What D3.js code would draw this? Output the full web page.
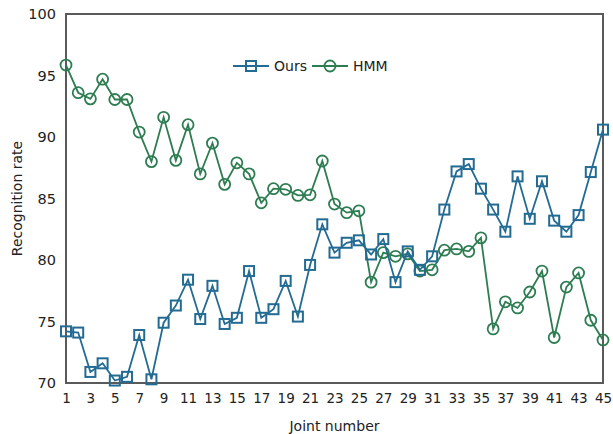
<!DOCTYPE html>
<html>
<head>
<meta charset="utf-8">
<script src="https://cdn.jsdelivr.net/npm/d3@7"></script>
<style>
  html, body { margin: 0; padding: 0; background: #fff; }
  svg text { font-family: "DejaVu Sans", Verdana, sans-serif; fill: #222; }
</style>
</head>
<body>
<svg id="chart" width="613" height="434"></svg>
<script>
// Recognition rate per joint number for the two methods
const joints = d3.range(1, 46);
const oursValues = [
  74.2, 74.1, 70.9, 71.6, 70.2, 70.5, 73.9, 70.3, 74.9, 76.3,
  78.4, 75.2, 77.9, 74.8, 75.3, 79.1, 75.3, 76.0, 78.3, 75.4,
  79.6, 82.9, 80.6, 81.4, 81.6, 80.45, 81.7, 78.2, 80.7, 79.2,
  80.3, 84.1, 87.2, 87.8, 85.8, 84.1, 82.3, 86.8, 83.35, 86.4,
  83.2, 82.3, 83.65, 87.15, 90.6
];
const hmmValues = [
  95.85, 93.6, 93.1, 94.7, 93.05, 93.05, 90.4, 88.0, 91.6, 88.1,
  91.0, 87.0, 89.5, 86.15, 87.9, 87.0, 84.65, 85.8, 85.75, 85.25,
  85.3, 88.05, 84.55, 83.85, 84.0, 78.2, 80.6, 80.3, 80.5, 79.1,
  79.2, 80.8, 80.9, 80.7, 81.8, 74.4, 76.6, 76.1, 77.4, 79.1,
  73.7, 77.8, 78.95, 75.1, 73.5
];
const xTickValues = d3.range(1, 46, 2);
const yTickValues = [70, 75, 80, 85, 90, 95, 100];
const seriesNames = ["Ours", "HMM"];
const seriesColors = ["#236b93", "#2e7d52"];

const svg = d3.select("#chart");
const margin = { left: 66, right: 10, top: 14, bottom: 51 };
const W = 613, H = 434;
const x = d3.scaleLinear().domain([1, 45]).range([margin.left, W - margin.right]);
const y = d3.scaleLinear().domain([70, 100]).range([H - margin.bottom, margin.top]);

// Plot frame
svg.append("rect")
  .attr("x", x(1)).attr("y", y(100))
  .attr("width", x(45) - x(1)).attr("height", y(70) - y(100))
  .attr("fill", "none").attr("stroke", "#5a5a5a").attr("stroke-width", 2);

// Axes: labels only, no tick marks
const xAxis = svg.append("g")
  .attr("transform", `translate(0,${y(70)})`)
  .call(d3.axisBottom(x).tickValues(xTickValues).tickFormat(d3.format("d")).tickSize(0).tickPadding(10));
xAxis.select(".domain").remove();
xAxis.selectAll("text").style("font-size", "13.5px");

const yAxis = svg.append("g")
  .attr("transform", `translate(${x(1)},0)`)
  .call(d3.axisLeft(y).tickValues(yTickValues).tickSize(0).tickPadding(10));
yAxis.select(".domain").remove();
yAxis.selectAll("text").style("font-size", "14.5px");

// Axis titles
svg.append("text")
  .attr("x", (x(1) + x(45)) / 2).attr("y", 431)
  .attr("text-anchor", "middle").style("font-size", "14px")
  .text("Joint number");
svg.append("text")
  .attr("transform", `translate(22,${(y(70) + y(100)) / 2}) rotate(-90)`)
  .attr("text-anchor", "middle").style("font-size", "14px")
  .text("Recognition rate");

const line = d3.line().x((d, i) => x(joints[i])).y(d => y(d));

function drawSquare(g, cx, cy, color) {
  g.append("rect")
    .attr("x", cx - 5).attr("y", cy - 5).attr("width", 10).attr("height", 10)
    .attr("fill", "none").attr("stroke", color).attr("stroke-width", 2);
}
function drawCircle(g, cx, cy, color) {
  g.append("circle")
    .attr("cx", cx).attr("cy", cy).attr("r", 5.5)
    .attr("fill", "none").attr("stroke", color).attr("stroke-width", 1.8);
}

// HMM series
const gH = svg.append("g");
gH.append("path").datum(hmmValues).attr("d", line)
  .attr("fill", "none").attr("stroke", seriesColors[1]).attr("stroke-width", 1.8);
hmmValues.forEach((v, i) => drawCircle(gH, x(joints[i]), y(v), seriesColors[1]));

// Ours series
const gO = svg.append("g");
gO.append("path").datum(oursValues).attr("d", line)
  .attr("fill", "none").attr("stroke", seriesColors[0]).attr("stroke-width", 1.8);
oursValues.forEach((v, i) => drawSquare(gO, x(joints[i]), y(v), seriesColors[0]));

// Legend
const legend = svg.append("g");
const legendItems = [
  { name: seriesNames[0], color: seriesColors[0], x0: 233, marker: drawSquare },
  { name: seriesNames[1], color: seriesColors[1], x0: 312, marker: drawCircle }
];
legendItems.forEach(item => {
  const ly = 66;
  legend.append("line")
    .attr("x1", item.x0).attr("x2", item.x0 + 36)
    .attr("y1", ly).attr("y2", ly)
    .attr("stroke", item.color).attr("stroke-width", 1.8);
  item.marker(legend, item.x0 + 18, ly, item.color);
  legend.append("text")
    .attr("x", item.x0 + 41).attr("y", ly + 5)
    .style("font-size", "14px")
    .text(item.name);
});
</script>
</body>
</html>
